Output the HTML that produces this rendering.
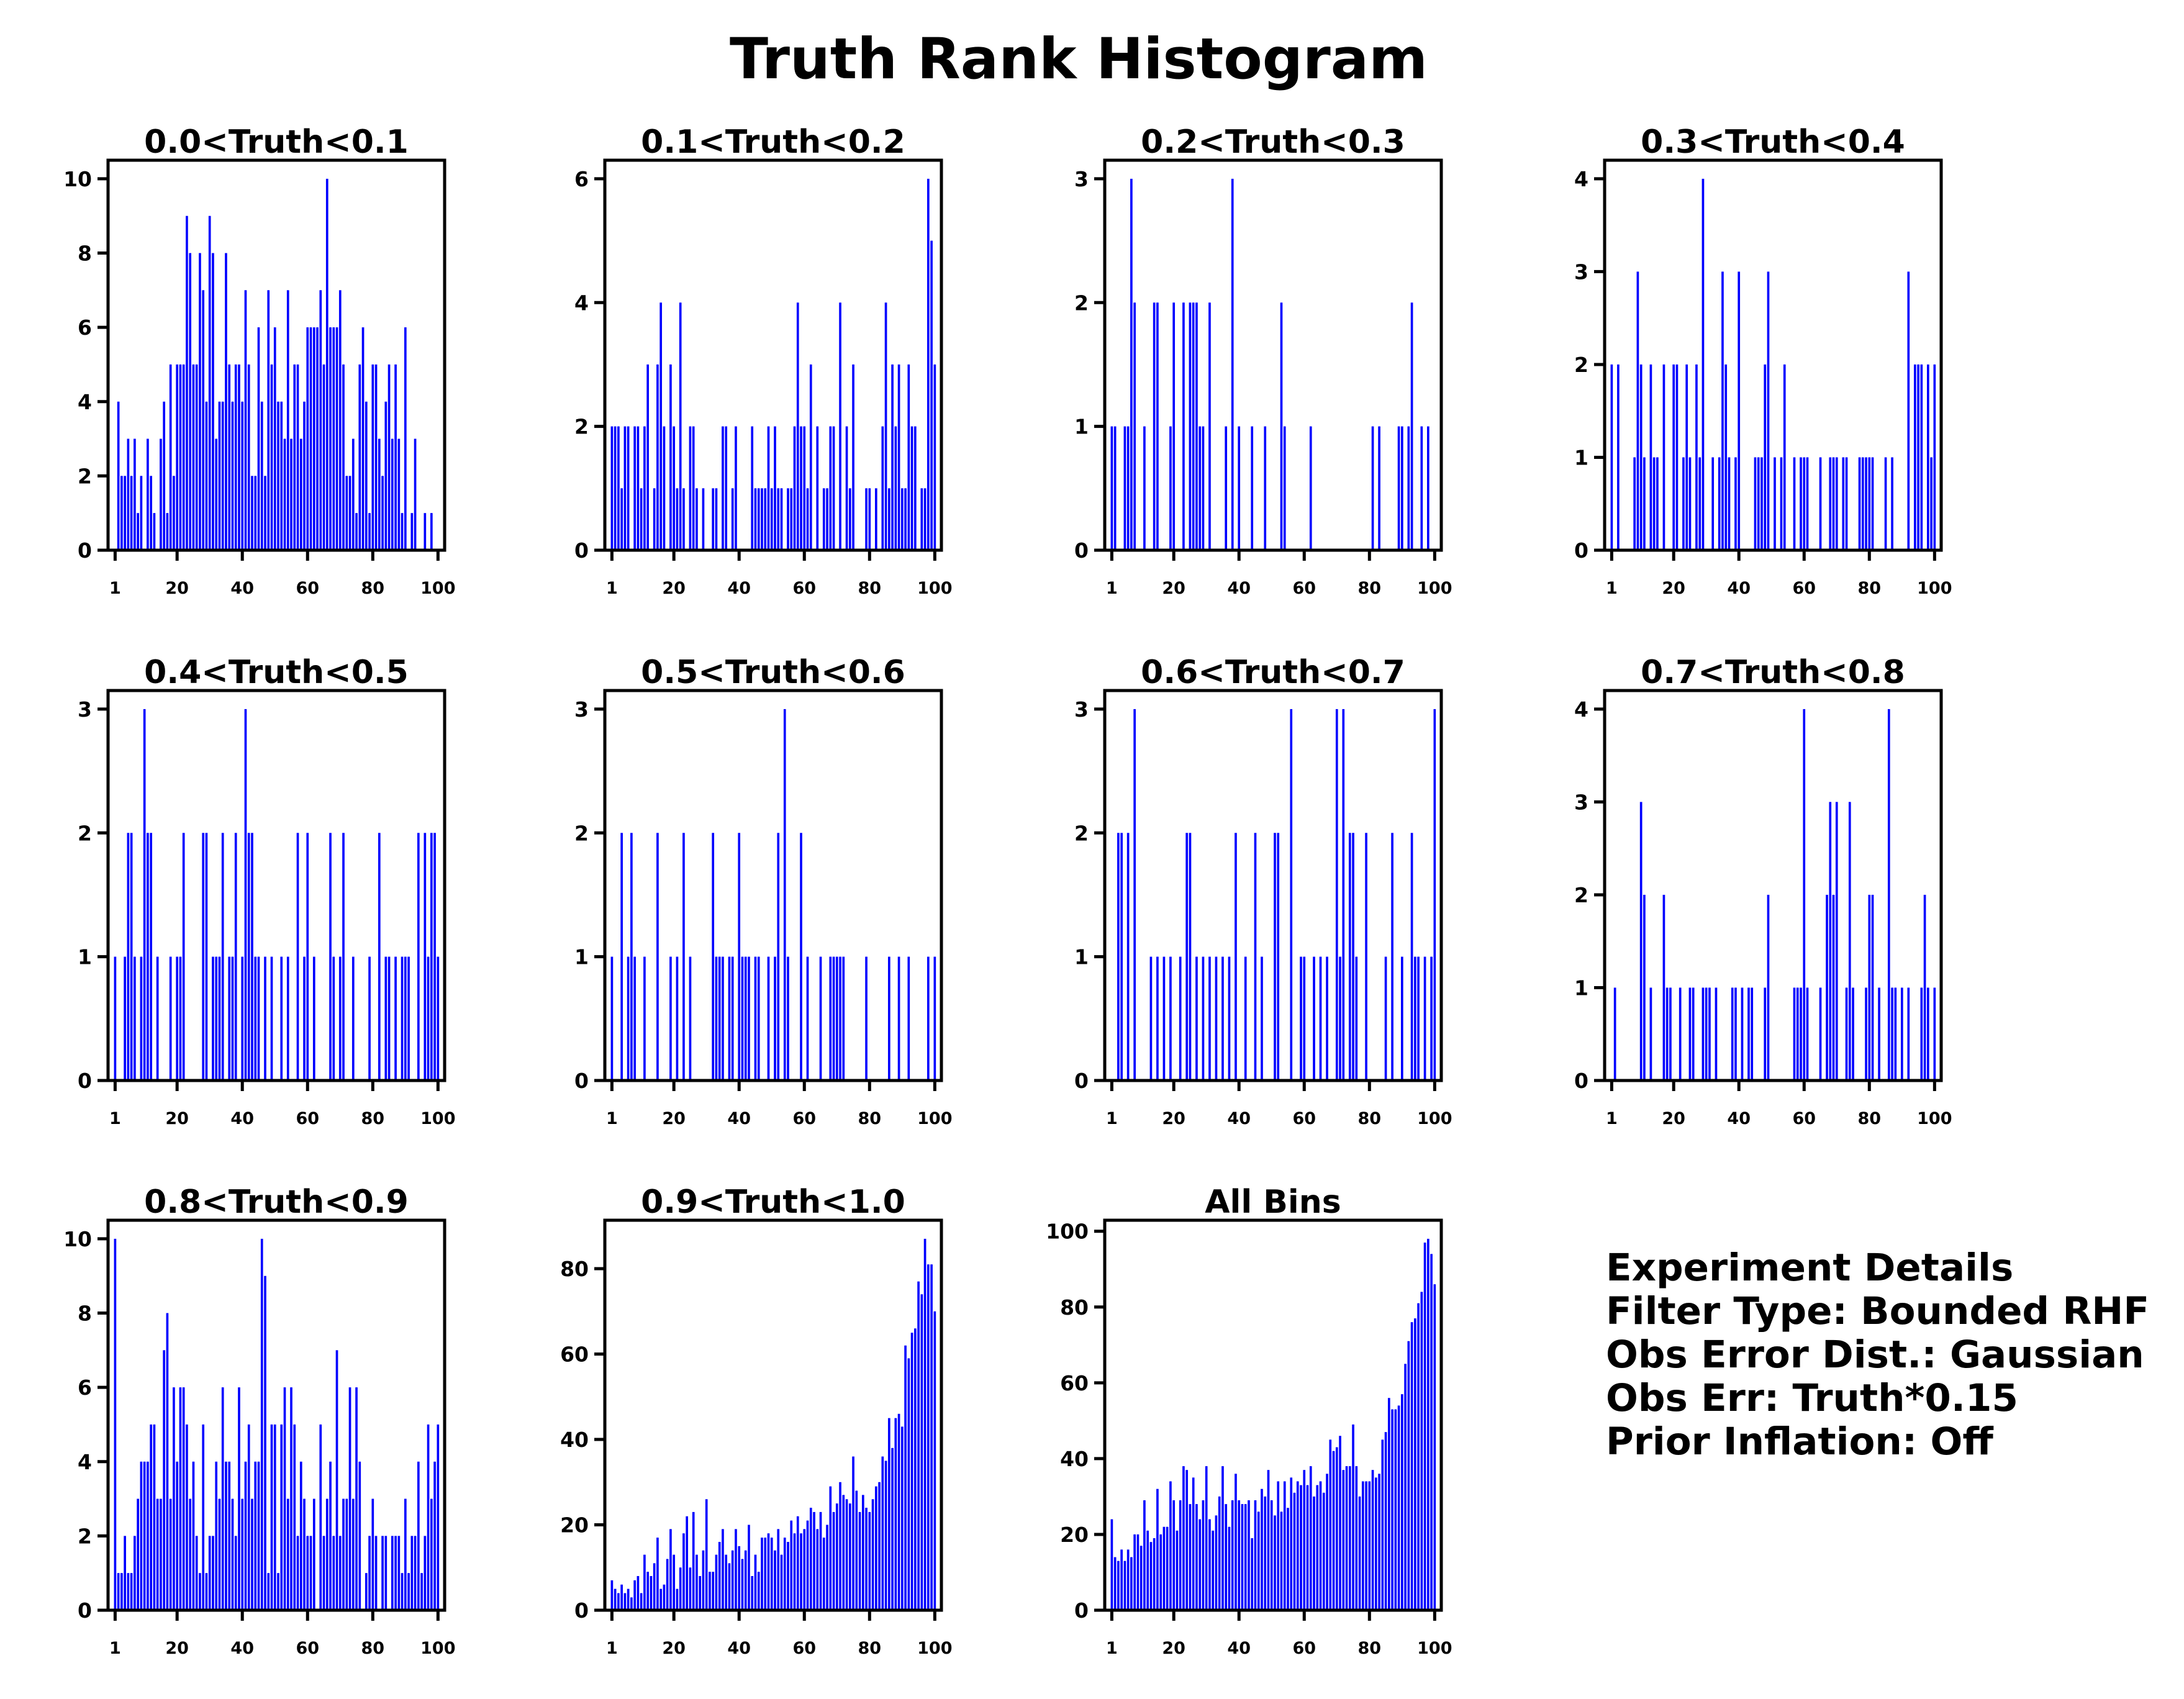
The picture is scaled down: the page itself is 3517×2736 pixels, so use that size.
<!DOCTYPE html>
<html>
<head>
<meta charset="utf-8">
<style>
html,body{margin:0;padding:0;background:#fff;}
svg{display:block;}
text{font-family:"DejaVu Sans","Liberation Sans",sans-serif;font-weight:bold;fill:#000;}
</style>
</head>
<body>
<svg id="fig" xmlns="http://www.w3.org/2000/svg" width="3517" height="2736" viewBox="0 0 3517 2736">
<rect x="0" y="0" width="3517" height="2736" fill="#fff"/>
<text x="1737" y="126" font-size="91" text-anchor="middle">Truth Rank Histogram</text>
<g font-size="61">
<text x="2586" y="2062">Experiment Details</text>
<text x="2586" y="2132">Filter Type: Bounded RHF</text>
<text x="2586" y="2202">Obs Error Dist.: Gaussian</text>
<text x="2586" y="2272">Obs Err: Truth*0.15</text>
<text x="2586" y="2342">Prior Inflation: Off</text>
</g>
</svg>
<script>
const panelTitles = ["0.0<Truth<0.1","0.1<Truth<0.2","0.2<Truth<0.3","0.3<Truth<0.4","0.4<Truth<0.5","0.5<Truth<0.6","0.6<Truth<0.7","0.7<Truth<0.8","0.8<Truth<0.9","0.9<Truth<1.0","All Bins"];
const xTickLabels = [1,20,40,60,80,100];
const yTickLabels0 = [0,2,4,6,8,10];
const yTickLabels1 = [0,2,4,6];
const yTickLabels2 = [0,1,2,3];
const yTickLabels3 = [0,1,2,3,4];
const yTickLabels4 = [0,1,2,3];
const yTickLabels5 = [0,1,2,3];
const yTickLabels6 = [0,1,2,3];
const yTickLabels7 = [0,1,2,3,4];
const yTickLabels8 = [0,2,4,6,8,10];
const yTickLabels9 = [0,20,40,60,80];
const yTickLabels10 = [0,20,40,60,80,100];

const counts0 = [0,4,2,2,3,2,3,1,2,0, 3,2,1,0,3,4,1,5,2,5, 5,5,9,8,5,5,8,7,4,9, 8,3,4,4,8,5,4,5,5,4, 7,5,2,2,6,4,2,7,5,6, 4,4,3,7,3,5,5,3,4,6, 6,6,6,7,5,10,6,6,6,7, 5,2,2,3,1,5,6,4,1,5, 5,3,2,4,5,3,5,3,1,6, 0,1,3,0,0,1,0,1,0,0];
const counts1 = [2,2,2,1,2,2,0,2,2,1, 2,3,0,1,3,4,2,0,3,2, 1,4,1,0,2,2,1,0,1,0, 0,1,1,0,2,2,0,1,2,0, 0,0,0,2,1,1,1,1,2,1, 2,1,1,0,1,1,2,4,2,2, 1,3,0,2,0,1,1,2,2,0, 4,0,2,1,3,0,0,0,1,1, 0,1,0,2,4,1,3,2,3,1, 1,3,2,2,0,1,1,6,5,3];
const counts2 = [1,1,0,0,1,1,3,2,0,0, 1,0,0,2,2,0,0,0,1,2, 0,0,2,0,2,2,2,1,1,0, 2,0,0,0,0,1,0,3,0,1, 0,0,0,1,0,0,0,1,0,0, 0,0,2,1,0,0,0,0,0,0, 0,1,0,0,0,0,0,0,0,0, 0,0,0,0,0,0,0,0,0,0, 1,0,1,0,0,0,0,0,1,1, 0,1,2,0,0,1,0,1,0,0];
const counts3 = [2,0,2,0,0,0,0,1,3,2, 1,0,2,1,1,0,2,0,0,2, 2,0,1,2,1,0,2,1,4,0, 0,1,0,1,3,2,1,0,1,3, 0,0,0,0,1,1,1,2,3,0, 1,0,1,2,0,0,1,0,1,1, 1,0,0,0,1,0,0,1,1,1, 0,1,1,0,0,0,1,1,1,1, 1,0,0,0,1,0,1,0,0,0, 0,3,0,2,2,2,0,2,1,2];
const counts4 = [1,0,0,1,2,2,1,0,1,3, 2,2,0,1,0,0,0,1,0,1, 1,2,0,0,0,0,0,2,2,0, 1,1,1,2,0,1,1,2,0,1, 3,2,2,1,1,0,1,0,1,0, 0,1,0,1,0,0,2,0,1,2, 0,1,0,0,0,0,2,1,0,1, 2,0,0,1,0,0,0,0,1,0, 0,2,0,1,1,0,1,0,1,1, 1,0,0,2,0,2,1,2,2,1];
const counts5 = [1,0,0,2,0,1,2,1,0,0, 1,0,0,0,2,0,0,0,1,0, 1,0,2,0,1,0,0,0,0,0, 0,2,1,1,1,0,1,1,0,2, 1,1,1,0,1,1,0,0,1,0, 1,2,0,3,1,0,0,0,2,0, 1,0,0,0,1,0,0,1,1,1, 1,1,0,0,0,0,0,0,1,0, 0,0,0,0,0,1,0,0,1,0, 0,1,0,0,0,0,0,1,0,1];
const counts6 = [0,0,2,2,0,2,0,3,0,0, 0,0,1,0,1,0,1,0,1,0, 0,1,0,2,2,0,1,0,1,0, 1,0,1,0,1,0,1,0,2,0, 0,1,0,0,2,0,1,0,0,0, 2,2,0,0,0,3,0,0,1,1, 0,0,1,0,1,0,1,0,0,3, 1,3,0,2,2,1,0,0,2,0, 0,0,0,0,1,0,2,0,0,1, 0,0,2,1,1,0,1,0,1,3];
const counts7 = [0,1,0,0,0,0,0,0,0,3, 2,0,1,0,0,0,2,1,1,0, 0,1,0,0,1,1,0,0,1,1, 1,0,1,0,0,0,0,1,1,0, 1,0,1,1,0,0,0,1,2,0, 0,0,0,0,0,0,1,1,1,4, 1,0,0,0,1,0,2,3,2,3, 0,0,1,3,1,0,0,0,1,2, 2,0,1,0,0,4,1,1,0,1, 0,1,0,0,0,1,2,1,0,1];
const counts8 = [10,1,1,2,1,1,2,3,4,4, 4,5,5,3,3,7,8,3,6,4, 6,6,5,3,4,2,1,5,1,2, 2,4,3,6,4,4,3,2,6,3, 4,5,3,4,4,10,9,1,5,5, 1,5,6,3,6,5,2,4,3,2, 2,3,0,5,2,3,4,2,7,2, 3,3,6,3,6,4,0,1,2,3, 2,0,2,2,0,2,2,2,1,3, 1,2,2,4,1,2,5,3,4,5];
const counts9 = [7,5,4,6,4,5,3,7,8,4, 13,9,8,11,17,5,6,12,19,13, 5,10,18,22,10,23,13,8,14,26, 9,9,13,16,19,13,11,14,19,15, 12,14,20,8,13,9,17,17,18,17, 14,19,13,17,16,21,18,22,18,19, 21,24,23,19,23,17,20,29,23,25, 30,27,26,25,36,28,23,27,24,23, 26,29,30,36,35,45,38,45,46,43, 62,59,65,66,77,74,87,81,81,70];
const counts10 = [24,14,13,16,13,16,14,20,20,17, 29,21,18,19,32,20,22,22,34,29, 21,29,38,37,28,35,28,24,29,38, 24,21,25,30,38,28,22,29,36,29, 28,28,29,19,29,26,32,30,37,29, 25,34,26,34,27,35,31,34,33,37, 33,38,30,33,34,31,36,45,42,43, 46,37,38,38,49,38,30,34,34,34, 37,35,36,45,47,56,53,53,54,57, 65,71,76,77,81,84,97,98,94,86];

const allCounts = [counts0,counts1,counts2,counts3,counts4,counts5,counts6,counts7,counts8,counts9,counts10];
const allYTicks = [yTickLabels0,yTickLabels1,yTickLabels2,yTickLabels3,yTickLabels4,yTickLabels5,yTickLabels6,yTickLabels7,yTickLabels8,yTickLabels9,yTickLabels10];

const NS = "http://www.w3.org/2000/svg";
const svg = document.getElementById("fig");
const colLefts = [174, 974, 1779, 2584];
const rowTops = [258, 1112, 1965];
const AW = 542, AH = 628;
const XMIN = -1.17, XMAX = 102.03;
const BARW = 0.7;

function mk(tag, attrs, parent) {
  const e = document.createElementNS(NS, tag);
  for (const k in attrs) e.setAttribute(k, attrs[k]);
  parent.appendChild(e);
  return e;
}

for (let p = 0; p < allCounts.length; p++) {
  const counts = allCounts[p];
  const yTicks = allYTicks[p];
  const left = colLefts[p % 4];
  const top = rowTops[Math.floor(p / 4)];
  const bottom = top + AH;
  const ymax = Math.max(...counts) * 1.05;
  const xs = v => left + (v - XMIN) / (XMAX - XMIN) * AW;
  const ys = v => bottom - v / ymax * AH;

  const g = mk("g", {}, svg);
  
  

  const bars = mk("g", {fill: "#0000ff"}, g);
  
  
  for (let i = 0; i < counts.length; i++) {
    if (counts[i] <= 0) continue;
    const x0 = xs(i + 1 - BARW / 2), x1 = xs(i + 1 + BARW / 2);
    const r = mk("rect", {x: x0.toFixed(2), y: ys(counts[i]).toFixed(2), width: (x1 - x0).toFixed(2), height: (bottom - ys(counts[i])).toFixed(2)}, bars);
    
    
  }

  const frame = mk("rect", {x: left, y: top, width: AW, height: AH, fill: "none", stroke: "#000", "stroke-width": 5}, g);
  
  

  const title = mk("text", {x: left + AW / 2, y: top - 12, "font-size": 52, "text-anchor": "middle"}, g);
  title.textContent = panelTitles[p];
  
  

  for (const t of yTicks) {
    const y = ys(t);
    const tk = mk("line", {x1: left - 17, x2: left, y1: y, y2: y, stroke: "#000", "stroke-width": 5}, g);
    
    
    const lb = mk("text", {x: left - 26, y: y + 12, "font-size": 33, "text-anchor": "end"}, g);
    lb.textContent = t;
    
    
  }
  for (const t of xTickLabels) {
    const x = xs(t);
    const tk = mk("line", {x1: x, x2: x, y1: bottom, y2: bottom + 17, stroke: "#000", "stroke-width": 5}, g);
    
    
    const lb = mk("text", {x: x, y: bottom + 70, "font-size": 27, "text-anchor": "middle"}, g);
    lb.textContent = t;
    
    
  }
}
</script>
</body>
</html>
